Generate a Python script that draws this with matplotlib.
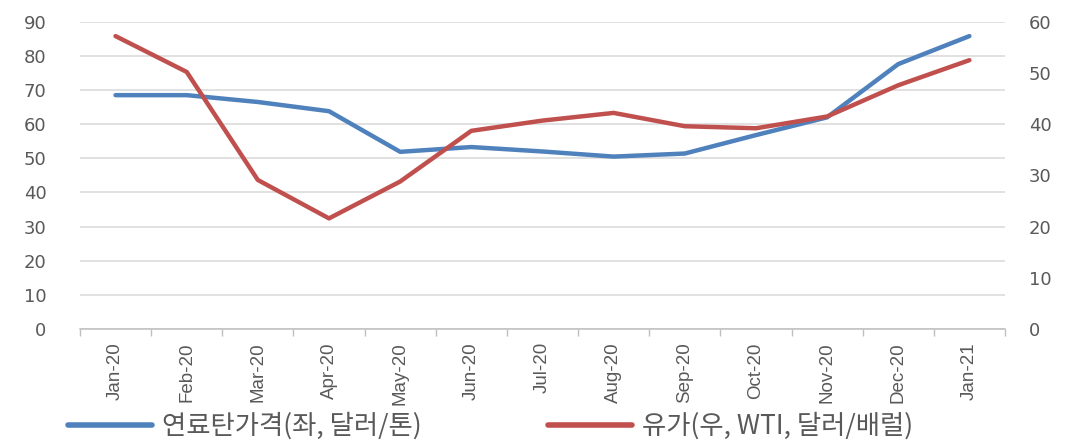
import matplotlib
matplotlib.use("Agg")
import matplotlib.pyplot as plt
import numpy as np

# Monthly series
months = ["Jan-20", "Feb-20", "Mar-20", "Apr-20", "May-20", "Jun-20", "Jul-20",
          "Aug-20", "Sep-20", "Oct-20", "Nov-20", "Dec-20", "Jan-21"]
coal_price = [68.5, 68.5, 66.5, 63.8, 51.9, 53.3, 52.0, 50.5, 51.4, 56.8, 62.0, 77.6, 85.8]
oil_price = [57.2, 50.2, 29.1, 21.6, 28.8, 38.7, 40.7, 42.2, 39.6, 39.2, 41.5, 47.6, 52.5]
left_ticks = list(range(0, 91, 10))
right_ticks = list(range(0, 61, 10))
coal_label = "연료탄가격(좌, 달러/톤)"
oil_label = "유가(우, WTI, 달러/배럴)"

BLUE = "#4F81BD"
RED = "#C0504D"
GRID = "#D9D9D9"
TXT = "#595959"

fig = plt.figure(figsize=(10.79, 4.44), dpi=100)
ax = fig.add_axes([0.0741, 0.259, 0.8573, 0.692])
ax2 = ax.twinx()

x = np.arange(len(months))
l1, = ax.plot(x, coal_price, color=BLUE, lw=3.2, solid_capstyle="round",
              solid_joinstyle="round", label=coal_label, zorder=3)
l2, = ax2.plot(x, oil_price, color=RED, lw=3.2, solid_capstyle="round",
               solid_joinstyle="round", label=oil_label, zorder=3)

ax.set_xlim(-0.5, len(months) - 0.5)
ax.set_ylim(0, 90)
ax2.set_ylim(0, 60)
ax.set_yticks(left_ticks)
ax2.set_yticks(right_ticks)

ax.yaxis.grid(True, color=GRID, lw=1.1)
ax.set_axisbelow(True)

for a in (ax, ax2):
    for s in ("top", "left", "right"):
        a.spines[s].set_visible(False)
ax2.spines["bottom"].set_visible(False)
ax.spines["bottom"].set_color("#BFBFBF")
ax.spines["bottom"].set_linewidth(1.1)

# category boundary ticks and centred labels
ax.set_xticks(np.arange(-0.5, len(months), 1.0))
ax.set_xticklabels([])
ax.tick_params(axis="x", which="major", length=5, width=1.0, color="#BFBFBF")
ax.set_xticks(x, minor=True)
ax.set_xticklabels(months, minor=True, rotation=90, fontsize=13.5,
                   family="Liberation Sans", color=TXT)
ax.tick_params(axis="x", which="minor", length=0, pad=9.5)

ax.tick_params(axis="y", length=0, pad=24, labelsize=13, labelcolor=TXT)
ax2.tick_params(axis="y", length=0, pad=17, labelsize=13, labelcolor=TXT)
for t in ax.get_yticklabels() + ax2.get_yticklabels():
    t.set_family("DejaVu Sans")

leg = fig.legend([l1, l2], [coal_label, oil_label], loc="center left",
                 bbox_to_anchor=(0.058, 0.040), ncol=2, frameon=False,
                 prop={"family": ["Noto Sans CJK KR", "DejaVu Sans"], "size": 19},
                 handlelength=3.2, handletextpad=0.35, columnspacing=4.8,
                 borderaxespad=0, borderpad=0.2)
for t in leg.get_texts():
    t.set_color(TXT)
for h in leg.get_lines():
    h.set_linewidth(4)

fig.savefig("out.png", dpi=100)
